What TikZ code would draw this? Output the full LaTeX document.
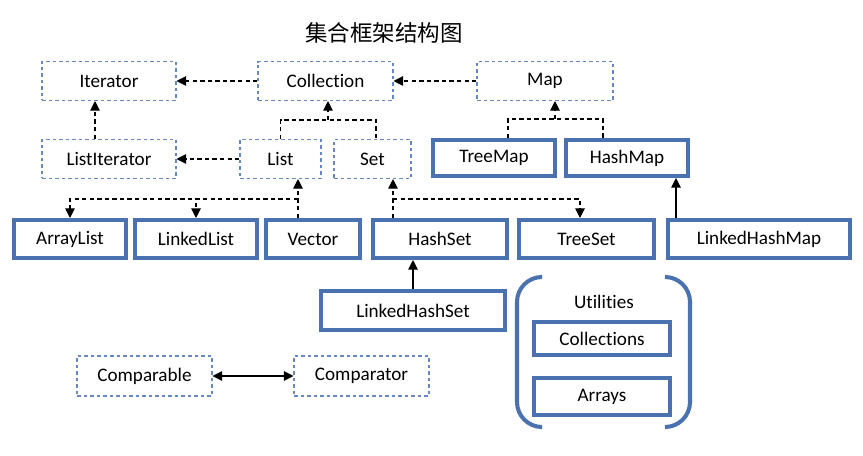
\documentclass[tikz,border=0pt]{standalone}
\usepackage{fontspec}
\setmainfont[Ligatures=NoCommon]{Carlito}
\newfontfamily\cjkfont{Noto Sans CJK SC}
\usetikzlibrary{arrows.meta}
\definecolor{boxBlue}{RGB}{74,114,176}
\definecolor{dashBlue}{RGB}{105,135,195}
\tikzset{
    >={Triangle[length=5.5pt,width=5.5pt]},
    iface/.style={draw=dashBlue,dash pattern=on 2.2pt off 1.5pt,line width=0.6pt,minimum height=0.78cm,font=\fontsize{10.9}{12}\selectfont},
    impl/.style={draw=boxBlue,line width=2.3pt,minimum height=0.76cm,font=\fontsize{10.9}{12}\selectfont},
    link/.style={->,dash pattern=on 2.5pt off 1.8pt,line width=0.6pt},
    plain/.style={dash pattern=on 2.5pt off 1.8pt,line width=0.6pt},
    solidlink/.style={->,line width=0.6pt}
}

\begin{document}
\begin{tikzpicture}[x=0.02cm,y=-0.02cm]
  \useasboundingbox (0,0) rectangle (863,456);

  \node[font=\fontsize{12.8}{14}\selectfont] (title) at (384,33) {\cjkfont 集合框架结构图};

  % interfaces
  \node[iface,minimum width=2.68cm] (iter)     at (109,81)    {Iterator};
  \node[iface,minimum width=2.70cm] (coll)     at (325.5,81)  {Collection};
  \node[iface,minimum width=2.72cm] (map)      at (545,81)    {Map};
  \node[iface,minimum width=2.68cm] (listiter) at (109,159)   {ListIterator};
  \node[iface,minimum width=1.62cm] (list)     at (280.5,159) {List};
  \node[iface,minimum width=1.54cm] (set)      at (372.5,159) {Set};
  \node[iface,minimum width=2.70cm,minimum height=0.8cm] (cmpable) at (144.5,376) {Comparable};
  \node[iface,minimum width=2.70cm,minimum height=0.8cm] (cmptor)  at (361.5,376) {Comparator};

  % classes
  \node[impl,minimum width=2.44cm,minimum height=0.72cm] (treemap) at (494,158) {TreeMap};
  \node[impl,minimum width=2.44cm,minimum height=0.72cm] (hashmap) at (627,158) {HashMap};
  \node[impl,minimum width=2.24cm] (arraylist)  at (70,239)    {ArrayList};
  \node[impl,minimum width=2.44cm] (linkedlist) at (196,239)   {LinkedList};
  \node[impl,minimum width=1.88cm] (vector)     at (313,239)   {Vector};
  \node[impl,minimum width=2.68cm] (hashset)    at (440,239)   {HashSet};
  \node[impl,minimum width=2.70cm] (treeset)    at (586.5,239) {TreeSet};
  \node[impl,minimum width=3.64cm] (lhmap)      at (759,239)   {LinkedHashMap};
  \node[impl,minimum width=3.68cm,minimum height=0.78cm] (lhset) at (413,310.5) {LinkedHashSet};

  % utilities
  \node[font=\fontsize{10.9}{12}\selectfont] (utiltitle) at (604,302) {Utilities};
  \node[impl,minimum width=2.72cm,minimum height=0.66cm] (colls)  at (602,338.5) {Collections};
  \node[impl,minimum width=2.72cm,minimum height=0.74cm] (arrays) at (602,396.5) {Arrays};
  \draw[boxBlue,line width=2.3pt,rounded corners=0.5cm] (540,277) -| (517,427) -- (540,427);
  \draw[boxBlue,line width=2.3pt,rounded corners=0.5cm] (665,277) -| (690,427) -- (665,427);

  % top row
  \draw[link] (coll) -- (iter);
  \draw[link] (map) -- (coll);
  \draw[link] ([xshift=-0.28cm]listiter.north) -- ([xshift=-0.28cm]iter.south);
  \draw[link] (list) -- (listiter);

  \coordinate (cj) at (328,120);
  \draw[plain] (list.north) |- (cj) -| ([xshift=0.07cm]set.north);
  \draw[link] (cj) -- (cj |- coll.south);

  \coordinate (mj) at (555,119);
  \draw[plain] ([xshift=0.28cm]treemap.north) |- (mj) -| ([xshift=-0.48cm]hashmap.north);
  \draw[link] (mj) -- (mj |- map.south);

  % lists and sets
  \coordinate (lj) at (298,199);
  \draw[link] (lj |- vector.north) -- (lj |- list.south);
  \draw[link] (lj) -| (arraylist.north);
  \draw[link] (lj) -| (linkedlist.north);

  \coordinate (sj) at (393,199);
  \draw[link] (sj |- hashset.north) -- (sj |- set.south);
  \draw[link] (sj) -| ([xshift=-0.13cm]treeset.north);

  \draw[solidlink] (lhset.north) -- (lhset.north |- hashset.south);
  \coordinate (hmfoot) at ([xshift=-0.28cm]hashmap.south east);
  \draw[solidlink] (hmfoot |- lhmap.north) -- (hmfoot);

  \draw[<->,line width=0.6pt] (cmpable) -- (cmptor);
\end{tikzpicture}
\end{document}
